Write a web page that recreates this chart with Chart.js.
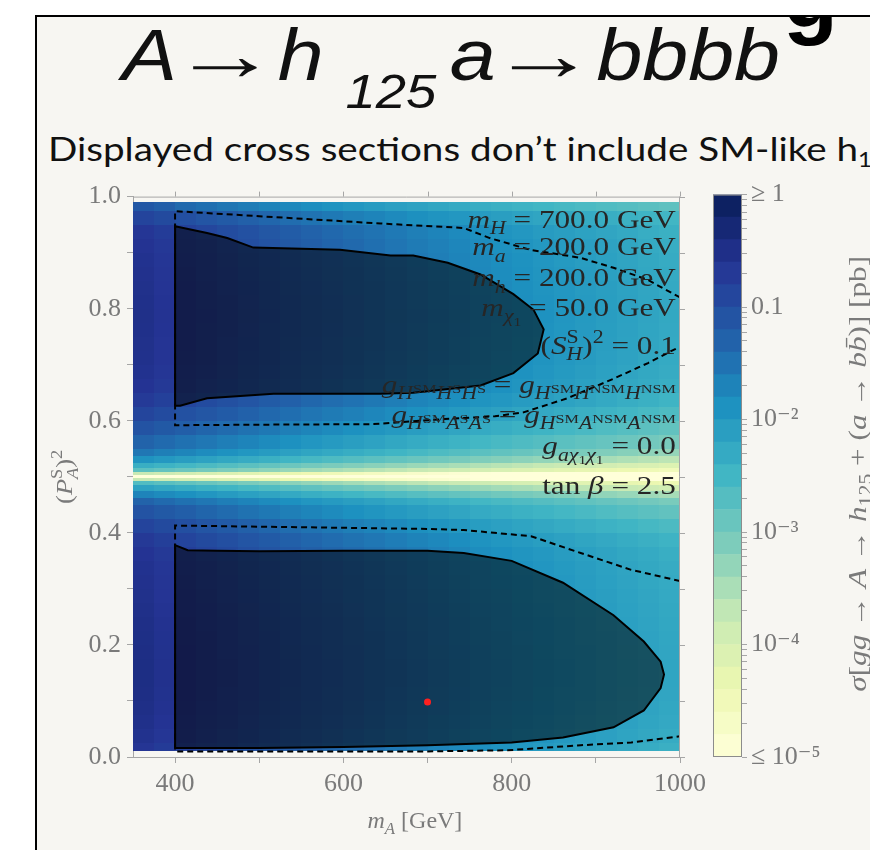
<!DOCTYPE html>
<html>
<head>
<meta charset="utf-8">
<script src="https://cdn.jsdelivr.net/npm/chart.js@4.4.1/dist/chart.umd.min.js"></script>
<style>
html, body { margin: 0; padding: 0; width: 870px; height: 850px; overflow: hidden; background: #fff; }
#frame { position: absolute; left: 35px; top: 15px; width: 850px; height: 850px; border-left: 2px solid #000; border-top: 2px solid #000; background: #f7f6f2; overflow: hidden; }
#cut { position: absolute; left: 746px; top: -66px; font: bold 90px "Liberation Sans", Arial, sans-serif; line-height: 1; color: #000; }
#title { position: absolute; left: 85px; top: 1px; font: italic 73px "Liberation Sans", Arial, sans-serif; line-height: 1; color: #111; white-space: nowrap; }
#title sub { font-size: 0.66em; vertical-align: -0.58em; line-height: 0; margin-left: 0.4em; margin-right: 0.25em; }
#title .arr { display: inline-block; width: 0.86em; margin: 0 0.3em 0 0.06em; text-align: center; font-style: normal; transform: scaleX(1.3); transform-origin: 50% 50%; }
#subtitle { position: absolute; left: 11px; top: 115px; font: 33px Lato, "Noto Sans", sans-serif; line-height: 1; color: #111; white-space: nowrap; }
#subtitle sub { font-size: 0.62em; vertical-align: -0.3em; line-height: 0; }
.fit { display: inline-block; transform-origin: 0 0; }
#main { position: absolute; left: 40px; top: 175px; }
#cbar { position: absolute; left: 700px; top: 175px; }
</style>
</head>
<body>
<div id="frame">
  <div id="cut">g</div>
  <div id="title"><span class="fit" id="titleText">A<span class="arr">→</span>h<sub>125</sub>a<span class="arr">→</span>bbbb</span></div>
  <div id="subtitle"><span class="fit" id="subText">Displayed cross sections don’t include SM-like h<sub>1</sub></span></div>
</div>
<canvas id="main" width="680" height="675"></canvas>
<canvas id="cbar" width="170" height="675"></canvas>
<script>
// m_A bin edges [GeV] and (P_A^S)^2 bin edges of the colour map
const massEdges = [350, 375, 400, 425, 450, 475, 500, 525, 550, 575, 600, 625, 650, 675, 700,
    725, 750, 775, 800, 825, 850, 875, 900, 925, 950, 975, 1000];
const probEdges = [0.01, 0.025, 0.05, 0.075, 0.1, 0.125, 0.15, 0.175, 0.2, 0.225, 0.25, 0.275,
    0.3, 0.325, 0.35, 0.375, 0.4, 0.425, 0.45, 0.4625, 0.475, 0.485, 0.492, 0.497, 0.503,
    0.508, 0.515, 0.525, 0.5375, 0.55, 0.575, 0.6, 0.625, 0.65, 0.675, 0.7, 0.725, 0.75,
    0.775, 0.8, 0.825, 0.85, 0.875, 0.9, 0.925, 0.95, 0.975, 0.99];

// log10(sigma / pb), one row per (P_A^S)^2 bin, bottom row first
const logSigma = [
    [-0.64,-0.73,-0.81,-0.89,-0.97,-1.05,-1.13,-1.21,-1.29,-1.36,-1.43,-1.50,-1.57,-1.64,-1.71,-1.78,-1.85,-1.91,-1.97,-2.03,-2.09,-2.15,-2.21,-2.27,-2.33,-2.39],
    [-0.56,-0.65,-0.73,-0.81,-0.89,-0.97,-1.05,-1.13,-1.21,-1.28,-1.35,-1.42,-1.49,-1.56,-1.63,-1.70,-1.77,-1.83,-1.89,-1.95,-2.01,-2.07,-2.13,-2.19,-2.25,-2.31],
    [-0.52,-0.61,-0.69,-0.77,-0.85,-0.93,-1.01,-1.09,-1.17,-1.24,-1.31,-1.38,-1.45,-1.52,-1.59,-1.66,-1.73,-1.79,-1.85,-1.91,-1.97,-2.03,-2.09,-2.15,-2.21,-2.27],
    [-0.49,-0.58,-0.66,-0.74,-0.82,-0.90,-0.98,-1.06,-1.14,-1.21,-1.28,-1.35,-1.42,-1.49,-1.56,-1.63,-1.70,-1.76,-1.82,-1.88,-1.94,-2.00,-2.06,-2.12,-2.18,-2.24],
    [-0.47,-0.56,-0.64,-0.72,-0.80,-0.88,-0.96,-1.04,-1.12,-1.19,-1.26,-1.33,-1.40,-1.47,-1.54,-1.61,-1.68,-1.74,-1.80,-1.86,-1.92,-1.98,-2.04,-2.10,-2.16,-2.22],
    [-0.46,-0.55,-0.63,-0.71,-0.79,-0.87,-0.95,-1.03,-1.11,-1.18,-1.25,-1.32,-1.39,-1.46,-1.53,-1.60,-1.67,-1.73,-1.79,-1.85,-1.91,-1.97,-2.03,-2.09,-2.15,-2.21],
    [-0.46,-0.55,-0.63,-0.71,-0.79,-0.87,-0.95,-1.03,-1.11,-1.18,-1.25,-1.32,-1.39,-1.46,-1.53,-1.60,-1.67,-1.73,-1.79,-1.85,-1.91,-1.97,-2.03,-2.09,-2.15,-2.21],
    [-0.47,-0.56,-0.64,-0.72,-0.80,-0.88,-0.96,-1.04,-1.12,-1.19,-1.26,-1.33,-1.40,-1.47,-1.54,-1.61,-1.68,-1.74,-1.80,-1.86,-1.92,-1.98,-2.04,-2.10,-2.16,-2.22],
    [-0.48,-0.57,-0.65,-0.73,-0.81,-0.89,-0.97,-1.05,-1.13,-1.20,-1.27,-1.34,-1.41,-1.48,-1.55,-1.62,-1.69,-1.75,-1.81,-1.87,-1.93,-1.99,-2.05,-2.11,-2.17,-2.23],
    [-0.49,-0.58,-0.66,-0.74,-0.82,-0.90,-0.98,-1.06,-1.14,-1.21,-1.28,-1.35,-1.42,-1.49,-1.56,-1.63,-1.70,-1.76,-1.82,-1.88,-1.94,-2.00,-2.06,-2.12,-2.18,-2.24],
    [-0.51,-0.60,-0.68,-0.76,-0.84,-0.92,-1.00,-1.08,-1.16,-1.23,-1.30,-1.37,-1.44,-1.51,-1.58,-1.65,-1.72,-1.78,-1.84,-1.90,-1.96,-2.02,-2.08,-2.14,-2.20,-2.26],
    [-0.53,-0.62,-0.70,-0.78,-0.86,-0.94,-1.02,-1.10,-1.18,-1.25,-1.32,-1.39,-1.46,-1.53,-1.60,-1.67,-1.74,-1.80,-1.86,-1.92,-1.98,-2.04,-2.10,-2.16,-2.22,-2.28],
    [-0.55,-0.64,-0.72,-0.80,-0.88,-0.96,-1.04,-1.12,-1.20,-1.27,-1.34,-1.41,-1.48,-1.55,-1.62,-1.69,-1.76,-1.82,-1.88,-1.94,-2.00,-2.06,-2.12,-2.18,-2.24,-2.30],
    [-0.57,-0.66,-0.74,-0.82,-0.90,-0.98,-1.06,-1.14,-1.22,-1.29,-1.36,-1.43,-1.50,-1.57,-1.64,-1.71,-1.78,-1.84,-1.90,-1.96,-2.02,-2.08,-2.14,-2.20,-2.26,-2.32],
    [-0.61,-0.70,-0.78,-0.86,-0.94,-1.02,-1.10,-1.18,-1.26,-1.33,-1.40,-1.47,-1.54,-1.61,-1.68,-1.75,-1.82,-1.88,-1.94,-2.00,-2.06,-2.12,-2.18,-2.24,-2.30,-2.36],
    [-0.70,-0.79,-0.87,-0.95,-1.03,-1.11,-1.19,-1.27,-1.35,-1.42,-1.49,-1.56,-1.63,-1.70,-1.77,-1.84,-1.91,-1.97,-2.03,-2.09,-2.15,-2.21,-2.27,-2.33,-2.39,-2.45],
    [-0.86,-0.95,-1.03,-1.11,-1.19,-1.27,-1.35,-1.43,-1.51,-1.58,-1.65,-1.72,-1.79,-1.86,-1.93,-2.00,-2.07,-2.13,-2.19,-2.25,-2.31,-2.37,-2.43,-2.49,-2.55,-2.61],
    [-1.08,-1.17,-1.25,-1.33,-1.41,-1.49,-1.57,-1.65,-1.73,-1.80,-1.87,-1.94,-2.01,-2.08,-2.15,-2.22,-2.29,-2.35,-2.41,-2.47,-2.53,-2.59,-2.65,-2.71,-2.77,-2.83],
    [-1.31,-1.40,-1.48,-1.56,-1.64,-1.72,-1.80,-1.88,-1.96,-2.03,-2.10,-2.17,-2.24,-2.31,-2.38,-2.45,-2.52,-2.58,-2.64,-2.70,-2.76,-2.82,-2.88,-2.94,-3.00,-3.06],
    [-1.71,-1.80,-1.88,-1.96,-2.04,-2.12,-2.20,-2.28,-2.36,-2.43,-2.50,-2.57,-2.64,-2.71,-2.78,-2.85,-2.92,-2.98,-3.04,-3.10,-3.16,-3.22,-3.28,-3.34,-3.40,-3.46],
    [-2.16,-2.25,-2.33,-2.41,-2.49,-2.57,-2.65,-2.73,-2.81,-2.88,-2.95,-3.02,-3.09,-3.16,-3.23,-3.30,-3.37,-3.43,-3.49,-3.55,-3.61,-3.67,-3.73,-3.79,-3.85,-3.91],
    [-2.66,-2.75,-2.83,-2.91,-2.99,-3.07,-3.15,-3.23,-3.31,-3.38,-3.45,-3.52,-3.59,-3.66,-3.73,-3.80,-3.87,-3.93,-3.99,-4.05,-4.11,-4.17,-4.23,-4.29,-4.35,-4.41],
    [-3.76,-3.85,-3.93,-4.01,-4.09,-4.17,-4.25,-4.33,-4.41,-4.48,-4.55,-4.62,-4.69,-4.76,-4.83,-4.90,-4.97,-5.03,-5.09,-5.15,-5.21,-5.27,-5.33,-5.39,-5.45,-5.51],
    [-5.46,-5.55,-5.63,-5.71,-5.79,-5.87,-5.95,-6.03,-6.11,-6.18,-6.25,-6.32,-6.39,-6.46,-6.53,-6.60,-6.67,-6.73,-6.79,-6.85,-6.91,-6.97,-7.03,-7.09,-7.15,-7.21],
    [-3.76,-3.85,-3.93,-4.01,-4.09,-4.17,-4.25,-4.33,-4.41,-4.48,-4.55,-4.62,-4.69,-4.76,-4.83,-4.90,-4.97,-5.03,-5.09,-5.15,-5.21,-5.27,-5.33,-5.39,-5.45,-5.51],
    [-2.76,-2.85,-2.93,-3.01,-3.09,-3.17,-3.25,-3.33,-3.41,-3.48,-3.55,-3.62,-3.69,-3.76,-3.83,-3.90,-3.97,-4.03,-4.09,-4.15,-4.21,-4.27,-4.33,-4.39,-4.45,-4.51],
    [-2.36,-2.45,-2.53,-2.61,-2.69,-2.77,-2.85,-2.93,-3.01,-3.08,-3.15,-3.22,-3.29,-3.36,-3.43,-3.50,-3.57,-3.63,-3.69,-3.75,-3.81,-3.87,-3.93,-3.99,-4.05,-4.11],
    [-1.91,-2.00,-2.08,-2.16,-2.24,-2.32,-2.40,-2.48,-2.56,-2.63,-2.70,-2.77,-2.84,-2.91,-2.98,-3.05,-3.12,-3.18,-3.24,-3.30,-3.36,-3.42,-3.48,-3.54,-3.60,-3.66],
    [-1.56,-1.65,-1.73,-1.81,-1.89,-1.97,-2.05,-2.13,-2.21,-2.28,-2.35,-2.42,-2.49,-2.56,-2.63,-2.70,-2.77,-2.83,-2.89,-2.95,-3.01,-3.07,-3.13,-3.19,-3.25,-3.31],
    [-1.31,-1.40,-1.48,-1.56,-1.64,-1.72,-1.80,-1.88,-1.96,-2.03,-2.10,-2.17,-2.24,-2.31,-2.38,-2.45,-2.52,-2.58,-2.64,-2.70,-2.76,-2.82,-2.88,-2.94,-3.00,-3.06],
    [-1.08,-1.17,-1.25,-1.33,-1.41,-1.49,-1.57,-1.65,-1.73,-1.80,-1.87,-1.94,-2.01,-2.08,-2.15,-2.22,-2.29,-2.35,-2.41,-2.47,-2.53,-2.59,-2.65,-2.71,-2.77,-2.83],
    [-0.88,-0.97,-1.05,-1.13,-1.21,-1.29,-1.37,-1.45,-1.53,-1.60,-1.67,-1.74,-1.81,-1.88,-1.95,-2.02,-2.09,-2.15,-2.21,-2.27,-2.33,-2.39,-2.45,-2.51,-2.57,-2.63],
    [-0.71,-0.80,-0.88,-0.96,-1.04,-1.12,-1.20,-1.28,-1.36,-1.43,-1.50,-1.57,-1.64,-1.71,-1.78,-1.85,-1.92,-1.98,-2.04,-2.10,-2.16,-2.22,-2.28,-2.34,-2.40,-2.46],
    [-0.61,-0.70,-0.78,-0.86,-0.94,-1.02,-1.10,-1.18,-1.26,-1.33,-1.40,-1.47,-1.54,-1.61,-1.68,-1.75,-1.82,-1.88,-1.94,-2.00,-2.06,-2.12,-2.18,-2.24,-2.30,-2.36],
    [-0.57,-0.66,-0.74,-0.82,-0.90,-0.98,-1.06,-1.14,-1.22,-1.29,-1.36,-1.43,-1.50,-1.57,-1.64,-1.71,-1.78,-1.84,-1.90,-1.96,-2.02,-2.08,-2.14,-2.20,-2.26,-2.32],
    [-0.54,-0.63,-0.71,-0.79,-0.87,-0.95,-1.03,-1.11,-1.19,-1.26,-1.33,-1.40,-1.47,-1.54,-1.61,-1.68,-1.75,-1.81,-1.87,-1.93,-1.99,-2.05,-2.11,-2.17,-2.23,-2.29],
    [-0.53,-0.62,-0.70,-0.78,-0.86,-0.94,-1.02,-1.10,-1.18,-1.25,-1.32,-1.39,-1.46,-1.53,-1.60,-1.67,-1.74,-1.80,-1.86,-1.92,-1.98,-2.04,-2.10,-2.16,-2.22,-2.28],
    [-0.52,-0.61,-0.69,-0.77,-0.85,-0.93,-1.01,-1.09,-1.17,-1.24,-1.31,-1.38,-1.45,-1.52,-1.59,-1.66,-1.73,-1.79,-1.85,-1.91,-1.97,-2.03,-2.09,-2.15,-2.21,-2.27],
    [-0.51,-0.60,-0.68,-0.76,-0.84,-0.92,-1.00,-1.08,-1.16,-1.23,-1.30,-1.37,-1.44,-1.51,-1.58,-1.65,-1.72,-1.78,-1.84,-1.90,-1.96,-2.02,-2.08,-2.14,-2.20,-2.26],
    [-0.52,-0.61,-0.69,-0.77,-0.85,-0.93,-1.01,-1.09,-1.17,-1.24,-1.31,-1.38,-1.45,-1.52,-1.59,-1.66,-1.73,-1.79,-1.85,-1.91,-1.97,-2.03,-2.09,-2.15,-2.21,-2.27],
    [-0.53,-0.62,-0.70,-0.78,-0.86,-0.94,-1.02,-1.10,-1.18,-1.25,-1.32,-1.39,-1.46,-1.53,-1.60,-1.67,-1.74,-1.80,-1.86,-1.92,-1.98,-2.04,-2.10,-2.16,-2.22,-2.28],
    [-0.55,-0.64,-0.72,-0.80,-0.88,-0.96,-1.04,-1.12,-1.20,-1.27,-1.34,-1.41,-1.48,-1.55,-1.62,-1.69,-1.76,-1.82,-1.88,-1.94,-2.00,-2.06,-2.12,-2.18,-2.24,-2.30],
    [-0.57,-0.66,-0.74,-0.82,-0.90,-0.98,-1.06,-1.14,-1.22,-1.29,-1.36,-1.43,-1.50,-1.57,-1.64,-1.71,-1.78,-1.84,-1.90,-1.96,-2.02,-2.08,-2.14,-2.20,-2.26,-2.32],
    [-0.60,-0.69,-0.77,-0.85,-0.93,-1.01,-1.09,-1.17,-1.25,-1.32,-1.39,-1.46,-1.53,-1.60,-1.67,-1.74,-1.81,-1.87,-1.93,-1.99,-2.05,-2.11,-2.17,-2.23,-2.29,-2.35],
    [-0.65,-0.74,-0.82,-0.90,-0.98,-1.06,-1.14,-1.22,-1.30,-1.37,-1.44,-1.51,-1.58,-1.65,-1.72,-1.79,-1.86,-1.92,-1.98,-2.04,-2.10,-2.16,-2.22,-2.28,-2.34,-2.40],
    [-0.86,-0.95,-1.03,-1.11,-1.19,-1.27,-1.35,-1.43,-1.51,-1.58,-1.65,-1.72,-1.79,-1.86,-1.92,-1.98,-2.04,-2.10,-2.16,-2.21,-2.26,-2.31,-2.36,-2.41,-2.46,-2.51],
    [-1.15,-1.25,-1.38,-1.46,-1.54,-1.62,-1.70,-1.77,-1.84,-1.91,-1.98,-2.05,-2.11,-2.17,-2.23,-2.29,-2.35,-2.40,-2.45,-2.50,-2.55,-2.60,-2.65,-2.70,-2.75,-2.80]
];

// solid contours (shaded region) and dashed contours, as (m_A, (P_A^S)^2)
const lowerSolidM = [400, 400, 415, 450, 500, 600, 700, 743, 800, 861, 921, 957, 977, 981, 977, 957, 921, 861, 800, 700, 600, 500, 400];
const lowerSolidP = [0.016, 0.378, 0.369, 0.368, 0.367, 0.368, 0.368, 0.364, 0.350, 0.311, 0.253, 0.206, 0.170, 0.147, 0.123, 0.083, 0.053, 0.035, 0.026, 0.021, 0.018, 0.016, 0.016];
const upperSolidM = [400, 400, 438, 462, 493, 596, 656, 683, 724, 763, 802, 826, 838, 831, 802, 763, 683, 644, 517, 438, 406, 400];
const upperSolidP = [0.627, 0.947, 0.935, 0.926, 0.909, 0.905, 0.895, 0.895, 0.882, 0.861, 0.826, 0.798, 0.763, 0.720, 0.685, 0.663, 0.650, 0.648, 0.648, 0.640, 0.627, 0.627];
const upperDashM = [1000, 961, 921, 881, 822, 774, 743, 644, 500, 400, 400, 500, 636, 720, 780, 814, 866, 921, 962, 993, 1000];
const upperDashP = [0.820, 0.852, 0.873, 0.891, 0.905, 0.926, 0.944, 0.952, 0.965, 0.974, 0.592, 0.593, 0.594, 0.603, 0.608, 0.615, 0.640, 0.675, 0.703, 0.727, 0.732];
const lowerDashM = [1000, 942, 882, 823, 743, 700, 600, 500, 400, 400, 600, 700, 795, 882, 942, 1000];
const lowerDashP = [0.314, 0.334, 0.364, 0.394, 0.405, 0.407, 0.409, 0.411, 0.413, 0.010, 0.010, 0.010, 0.012, 0.021, 0.026, 0.037];
const benchmarkM = [700];
const benchmarkP = [0.098];

// axes and colour bar
const massTicks = [400, 500, 600, 700, 800, 900, 1000];
const massLabels = [400, 600, 800, 1000];
const probTicks = [0, 0.1, 0.2, 0.3, 0.4, 0.5, 0.6, 0.7, 0.8, 0.9, 1];
const probLabels = [0, 0.2, 0.4, 0.6, 0.8, 1];
const levelExponents = [-5, -4.8, -4.6, -4.4, -4.2, -4, -3.8, -3.6, -3.4, -3.2, -3, -2.8, -2.6,
    -2.4, -2.2, -2, -1.8, -1.6, -1.4, -1.2, -1, -0.8, -0.6, -0.4, -0.2, 0];
const cbarMajor = [1e-5, 1e-4, 1e-3, 1e-2, 0.1, 1];
const cbarLabels = ['≤ 10⁻⁵', '10⁻⁴', '10⁻³', '10⁻²', '0.1', '≥ 1'];

const serif = '"Liberation Serif", "DejaVu Serif", serif';
const axisGrey = '#a6a6a6';
const labelGrey = '#7a7a7a';
const ink = '#262626';
const ylgnbu = ['#ffffd9', '#edf8b1', '#c7e9b4', '#7fcdbb', '#41b6c4', '#1d91c0', '#225ea8', '#253494', '#081d58'];
const stops = ylgnbu.map(h => [1, 3, 5].map(i => parseInt(h.slice(i, i + 2), 16)));

function colourFor(v) {
    const t = Math.min(1, Math.max(0, (v + 5) / 5));
    const s = t * (stops.length - 1);
    const i = Math.min(stops.length - 2, Math.floor(s));
    const f = s - i;
    const c = stops[i].map((a, k) => Math.round(a + (stops[i + 1][k] - a) * f));
    return `rgb(${c.join(',')})`;
}

// rich text: [text, kind, stacked]
const kinds = {
    r: [1, 0, false], i: [1, 0, true],
    sb: [0.7, 0.24, false], sbi: [0.7, 0.24, true],
    sp: [0.7, -0.42, false], spi: [0.7, -0.42, true],
    ss: [0.5, 0.38, false], ps: [0.52, 0.0, false]
};

function drawRich(ctx, segs, x, y, size, opts) {
    const {align = 'left', stretch = 1, rotate = 0, color = ink} = opts || {};
    ctx.save();
    ctx.setTransform(1, 0, 0, 1, 0, 0);
    let cursor = 0, held = 0;
    const items = [];
    for (const [text, kind, stack] of segs) {
        const [k, dy, it] = kinds[kind];
        const font = (it ? 'italic ' : '') + (size * k).toFixed(1) + 'px ' + serif;
        ctx.font = font;
        const w = ctx.measureText(text).width;
        items.push({text, font, x: cursor, dy: dy * size});
        if (stack) {
            held = Math.max(held, w);
        } else {
            cursor += Math.max(w, held);
            held = 0;
        }
    }
    ctx.translate(x, y);
    if (rotate) ctx.rotate(rotate);
    ctx.scale(stretch, 1);
    const x0 = align === 'right' ? -cursor : align === 'center' ? -cursor / 2 : 0;
    ctx.fillStyle = color;
    ctx.textAlign = 'left';
    ctx.textBaseline = 'alphabetic';
    for (const it of items) {
        ctx.font = it.font;
        ctx.fillText(it.text, x0 + it.x, it.dy);
    }
    ctx.restore();
}

const notes = [
    {p: 0.944, segs: [['m', 'i'], ['H', 'sbi'], [' = 700.0 GeV', 'r']]},
    {p: 0.895, segs: [['m', 'i'], ['a', 'sbi'], [' = 200.0 GeV', 'r']]},
    {p: 0.840, segs: [['m', 'i'], ['h', 'sbi'], [' = 200.0 GeV', 'r']]},
    {p: 0.787, segs: [['m', 'i'], ['χ', 'sbi'], ['1', 'ss'], [' = 50.0 GeV', 'r']]},
    {p: 0.719, segs: [['(', 'r'], ['S', 'i'], ['S', 'sp', true], ['H', 'sbi'], [')', 'r'], ['2', 'sp'], [' = 0.1', 'r']]},
    {p: 0.650, segs: [['g', 'i'], ['H', 'sbi'], ['SM', 'ps'], ['H', 'sbi'], ['S', 'ps'], ['H', 'sbi'], ['S', 'ps'], [' = ', 'r'],
        ['g', 'i'], ['H', 'sbi'], ['SM', 'ps'], ['H', 'sbi'], ['NSM', 'ps'], ['H', 'sbi'], ['NSM', 'ps']]},
    {p: 0.596, segs: [['g', 'i'], ['H', 'sbi'], ['SM', 'ps'], ['A', 'sbi'], ['S', 'ps'], ['A', 'sbi'], ['S', 'ps'], [' = ', 'r'],
        ['g', 'i'], ['H', 'sbi'], ['SM', 'ps'], ['A', 'sbi'], ['NSM', 'ps'], ['A', 'sbi'], ['NSM', 'ps']]},
    {p: 0.540, segs: [['g', 'i'], ['aχ', 'sbi'], ['1', 'ss'], ['χ', 'sbi'], ['1', 'ss'], [' = 0.0', 'r']]},
    {p: 0.469, segs: [['tan ', 'r'], ['β', 'i'], [' = 2.5', 'r']]}
];

function tracePolygon(ctx, x, y, ms, ps) {
    ctx.beginPath();
    ms.forEach((m, i) => {
        const px = x.getPixelForValue(m), py = y.getPixelForValue(ps[i]);
        if (i) ctx.lineTo(px, py); else ctx.moveTo(px, py);
    });
    ctx.closePath();
}

const mapPlugin = {
    id: 'crossSectionMap',
    beforeDatasetsDraw(chart) {
        const {ctx, chartArea: a, scales: {x, y}} = chart;
        ctx.save();
        ctx.beginPath();
        ctx.rect(a.left, a.top, a.right - a.left, a.bottom - a.top);
        ctx.clip();
        logSigma.forEach((row, r) => {
            const yb = Math.round(y.getPixelForValue(probEdges[r]));
            const yt = Math.round(y.getPixelForValue(probEdges[r + 1]));
            row.forEach((v, c) => {
                const xl = Math.round(x.getPixelForValue(massEdges[c]));
                const xr = Math.round(x.getPixelForValue(massEdges[c + 1]));
                ctx.fillStyle = colourFor(v);
                ctx.fillRect(xl, yt, xr - xl, yb - yt);
            });
        });
        ctx.fillStyle = 'rgba(0,0,0,0.5)';
        tracePolygon(ctx, x, y, lowerSolidM, lowerSolidP);
        ctx.fill();
        tracePolygon(ctx, x, y, upperSolidM, upperSolidP);
        ctx.fill();
        ctx.restore();
    },
    afterDatasetsDraw(chart) {
        const {ctx, scales: {x, y}} = chart;
        for (const n of notes) {
            drawRich(ctx, n.segs, x.getPixelForValue(995), y.getPixelForValue(n.p), 26, {align: 'right', stretch: 1.2});
        }
    },
    afterDraw(chart) {
        const {ctx, chartArea: a, scales: {x, y}} = chart;
        ctx.save();
        ctx.strokeStyle = axisGrey;
        ctx.lineWidth = 1;
        ctx.beginPath();
        ctx.moveTo(a.left, a.top + 0.5); ctx.lineTo(a.right, a.top + 0.5);
        ctx.moveTo(a.right - 0.5, a.top); ctx.lineTo(a.right - 0.5, a.bottom);
        for (const m of massTicks) {
            const px = Math.round(x.getPixelForValue(m)) + 0.5;
            ctx.moveTo(px, a.top); ctx.lineTo(px, a.top - 5);
        }
        for (const p of probTicks) {
            const py = Math.round(y.getPixelForValue(p)) + 0.5;
            ctx.moveTo(a.right, py); ctx.lineTo(a.right + 5, py);
        }
        ctx.stroke();
        ctx.restore();
        drawRich(ctx, [['m', 'i'], ['A', 'sbi'], [' [GeV]', 'r']], x.getPixelForValue(685), a.bottom + 71, 24, {align: 'center', color: labelGrey});
        drawRich(ctx, [['(', 'r'], ['P', 'i'], ['S', 'sp', true], ['A', 'sbi'], [')', 'r'], ['2', 'sp']], 32, (a.top + a.bottom) / 2, 24,
            {align: 'center', rotate: -Math.PI / 2, color: labelGrey, stretch: 1.1});
    }
};

function contourSet(ms, ps, dash) {
    return {
        data: ms.map((m, i) => ({x: m, y: ps[i]})),
        showLine: true,
        borderColor: '#000',
        borderWidth: 2,
        borderDash: dash,
        pointRadius: 0,
        fill: false,
        tension: 0
    };
}

function drawMain() {
    new Chart(document.getElementById('main'), {
        type: 'scatter',
        data: {
            datasets: [
                contourSet(lowerSolidM, lowerSolidP, []),
                contourSet(upperSolidM, upperSolidP, []),
                contourSet(lowerDashM, lowerDashP, [6, 4]),
                contourSet(upperDashM, upperDashP, [6, 4]),
                {
                    data: benchmarkM.map((m, i) => ({x: m, y: benchmarkP[i]})),
                    pointRadius: 3.5,
                    pointBackgroundColor: '#ff2020',
                    pointBorderWidth: 0,
                    showLine: false
                }
            ]
        },
        options: {
            responsive: false,
            animation: false,
            events: [],
            layout: {padding: {left: 0, top: 13, right: 40, bottom: 0}},
            plugins: {legend: {display: false}, tooltip: {enabled: false}},
            scales: {
                x: {
                    type: 'linear', min: 350, max: 1000,
                    afterBuildTicks: s => { s.ticks = massTicks.map(v => ({value: v})); },
                    afterFit: s => { s.height = 93; },
                    ticks: {
                        callback: v => massLabels.includes(v) ? String(v) : '',
                        font: {family: serif, size: 26}, color: labelGrey,
                        padding: 6, maxRotation: 0, autoSkip: false
                    },
                    grid: {drawOnChartArea: false, tickLength: 6, color: axisGrey},
                    border: {display: true, color: axisGrey, width: 1}
                },
                y: {
                    type: 'linear', min: 0, max: 1,
                    afterBuildTicks: s => { s.ticks = probTicks.map(v => ({value: v})); },
                    afterFit: s => { s.width = 93; },
                    ticks: {
                        callback: v => probLabels.includes(v) ? v.toFixed(1) : '',
                        font: {family: serif, size: 26}, color: labelGrey,
                        padding: 6, autoSkip: false
                    },
                    grid: {drawOnChartArea: false, tickLength: 6, color: axisGrey},
                    border: {display: true, color: axisGrey, width: 1}
                }
            }
        },
        plugins: [mapPlugin]
    });
}

const cbarPlugin = {
    id: 'cbarFrame',
    afterDatasetsDraw(chart) {
        const {ctx, chartArea: a} = chart;
        ctx.save();
        ctx.strokeStyle = '#8c8c8c';
        ctx.lineWidth = 1;
        ctx.strokeRect(a.left + 0.5, a.top + 0.5, a.right - a.left - 1, a.bottom - a.top - 1);
        ctx.restore();
    },
    afterDraw(chart) {
        const {ctx, chartArea: a} = chart;
        drawRich(ctx, [['σ', 'i'], ['[', 'r'], ['gg', 'i'], [' → ', 'r'], ['A', 'i'], [' → ', 'r'], ['h', 'i'], ['125', 'sb'],
            [' + (', 'r'], ['a', 'i'], [' → ', 'r'], ['b', 'i'], ['b̄', 'i'], [')] [pb]', 'r']],
            166, (a.top + a.bottom) / 2 - 2, 26, {align: 'center', rotate: -Math.PI / 2, color: labelGrey, stretch: 1.2});
    }
};

function drawBar() {
    const minorTicks = [];
    cbarMajor.slice(0, -1).forEach(d => { for (let k = 2; k <= 9; k++) minorTicks.push(k * d); });
    const allTicks = cbarMajor.concat(minorTicks).sort((p, q) => p - q);
    new Chart(document.getElementById('cbar'), {
        type: 'bar',
        data: {
            labels: ['σ'],
            datasets: levelExponents.slice(0, -1).map((e, i) => ({
                data: [[Math.pow(10, e), Math.pow(10, levelExponents[i + 1])]],
                backgroundColor: colourFor((e + levelExponents[i + 1]) / 2),
                borderWidth: 0,
                grouped: false,
                barPercentage: 1,
                categoryPercentage: 1
            }))
        },
        options: {
            responsive: false,
            animation: false,
            events: [],
            layout: {padding: {left: 13, top: 15, right: 0, bottom: 93}},
            plugins: {legend: {display: false}, tooltip: {enabled: false}},
            scales: {
                x: {display: false},
                y: {
                    type: 'logarithmic', position: 'right', min: 1e-5, max: 1,
                    afterBuildTicks: s => { s.ticks = allTicks.map(v => ({value: v})); },
                    afterFit: s => { s.width = 128; },
                    ticks: {
                        autoSkip: false,
                        callback: v => {
                            const i = cbarMajor.findIndex(mj => Math.abs(Math.log10(mj) - Math.log10(v)) < 1e-6);
                            return i >= 0 ? cbarLabels[i] : '';
                        },
                        font: {family: serif, size: 26}, color: labelGrey, padding: 4
                    },
                    grid: {drawOnChartArea: false, tickLength: 5, color: axisGrey},
                    border: {display: false}
                }
            }
        },
        plugins: [cbarPlugin]
    });
}

function fitText(id, target) {
    const el = document.getElementById(id);
    const w = el.getBoundingClientRect().width;
    if (w > 0) el.style.transform = `scaleX(${target / w})`;
}

async function init() {
    try {
        await Promise.all([
            document.fonts.load('26px "Liberation Serif"'),
            document.fonts.load('italic 26px "Liberation Serif"'),
            document.fonts.load('italic 73px "Liberation Sans"'),
            document.fonts.load('33px Lato')
        ]);
    } catch (e) {}
    fitText('titleText', 658);
    fitText('subText', 824);
    drawMain();
    drawBar();
}

init();
</script>
</body>
</html>
